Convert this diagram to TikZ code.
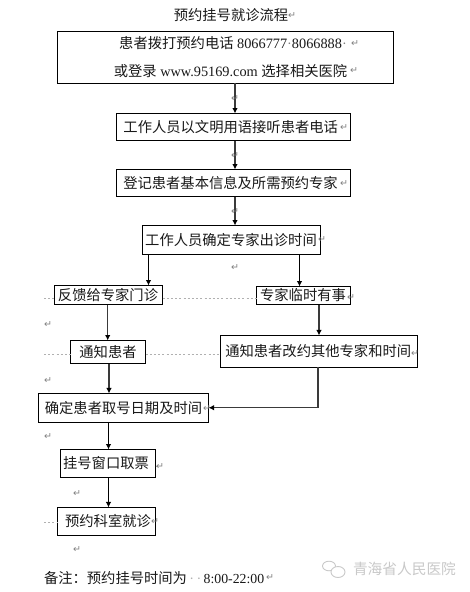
\documentclass[tikz,border=0pt]{standalone}
\usepackage{fontspec}
\setmainfont{Liberation Serif}
\newfontfamily\cjkf{Noto Sans CJK SC}[Scale=1.0]
\newfontfamily\markf{DejaVu Sans}
\usetikzlibrary{arrows.meta,calc}
\definecolor{markgray}{HTML}{808080}
\definecolor{stemgray}{HTML}{3A3A3A}
\definecolor{dotgray}{HTML}{B0B0B0}
\definecolor{wmgray}{HTML}{C9C9C9}
\newcommand{\zh}[1]{{\cjkf #1}}
\newcommand{\spmark}{{\color{markgray}·}}
\newcommand{\lowered}[2]{\raisebox{-#1pt}{#2}}
\tikzset{
  x=1pt,y=1pt,
  every node/.style={font=\fontsize{14.3}{28}\selectfont,inner sep=0pt,outer sep=0pt,text=black!90},
  boxnode/.style={draw=black,line width=0.9pt,fill=white,anchor=center},
  arr/.style={draw=stemgray,line width=1.1pt,-{Latex[length=5.5pt,width=5.5pt,color=black]}},
  dotline/.style={draw=dotgray,line width=0.6pt,dash pattern=on 2pt off 2.2pt},
  retnode/.style={font=\markf\fontsize{9.5}{10}\selectfont,text=markgray,anchor=center},
  wm/.style={font=\fontsize{14.7}{16}\selectfont,text=wmgray,anchor=west},
}
\newcommand{\retm}[3]{\node[retnode] (#1) at (#2,#3) {↵};}
\begin{document}
\begin{tikzpicture}
\useasboundingbox[fill=white] (0,0) rectangle (470,-592);
% column guides
\coordinate (c1) at (235,0);
\coordinate (c2) at (148.5,0);
\coordinate (c3) at (299.5,0);
\coordinate (c4) at (107.7,0);
\coordinate (c5) at (109,0);
\coordinate (c6) at (108.5,0);
\coordinate (c7) at (319,0);
\coordinate (c8) at (318,0);
\coordinate (r1) at (0,-298);
\coordinate (r2) at (0,-354);
\coordinate (r3) at (0,-522);
\coordinate (d1) at (44,-298);
\coordinate (d2) at (44,-354);
\coordinate (d3) at (44,-522);
\coordinate (d4) at (159,-466);
% boxes
\node (title) at (231,-15) {\zh{预约挂号就诊流程}};
\node[boxnode,minimum width=336,minimum height=51.5,align=center] (A) at (225.5,-57.2)
  {\hspace*{15pt}\zh{患者拨打预约电话} 8066777\spmark 8066888\spmark\\\hspace*{10pt}\zh{或登录} www.95169.com \zh{选择相关医院}};
\node[boxnode,minimum width=233.5,minimum height=27] (B) at (233.2,-127) {\hspace*{-5pt}\lowered{1.5}{\zh{工作人员以文明用语接听患者电话}}};
\node[boxnode,minimum width=234,minimum height=27] (C) at (233,-183) {\hspace*{-5pt}\lowered{1.5}{\zh{登记患者基本信息及所需预约专家}}};
\node[boxnode,minimum width=178,minimum height=29] (D) at (231.5,-240) {\hspace*{-1pt}\lowered{0.8}{\zh{工作人员确定专家出诊时间}}};
\node[boxnode,minimum width=108,minimum height=19] (E) at (108.5,-295) {\lowered{2.5}{\hspace*{-1pt}\zh{反馈给专家门诊}}};
\node[boxnode,minimum width=94,minimum height=18] (F) at (303.5,-295.5) {\lowered{2.5}{\hspace*{-1pt}\zh{专家临时有事}}};
\node[boxnode,minimum width=75,minimum height=23] (G) at (108,-352) {\lowered{1.5}{\zh{通知患者}}};
\node[boxnode,minimum width=196.5,minimum height=31.5] (H) at (318.7,-351.2) {\hspace*{-1pt}\lowered{2}{\zh{通知患者改约其他专家和时间}}};
\node[boxnode,minimum width=170,minimum height=28.5] (I) at (123.5,-407.7) {\lowered{1}{\zh{确定患者取号日期及时间}}};
\node[boxnode,minimum width=95,minimum height=28] (J) at (108,-463.5) {\hspace*{-4pt}\lowered{3}{\zh{挂号窗口取票}}};
\node[boxnode,minimum width=98,minimum height=27.5] (K) at (106.5,-521.2) {\hspace*{3pt}\lowered{1}{\zh{预约科室就诊}}};
\node[anchor=west] (note) at (44,-578) {\zh{备注：预约挂号时间为}{\color{dotgray}\,·\,·}\,\fontsize{13.8}{28}\selectfont 8:00-22:00};
% connectors
\draw[arr] (A.south -| c1) -- (B.north -| c1);
\draw[arr] (B.south -| c1) -- (C.north -| c1);
\draw[arr] (C.south -| c1) -- (D.north -| c1);
\draw[arr,draw=black] (D.south -| c2) -- (E.north -| c2);
\draw[arr,draw=black] (D.south -| c3) -- (F.north -| c3);
\draw[arr] (E.south -| c4) -- (G.north -| c4);
\draw[arr] (F.south -| c7) -- (H.north -| c7);
\draw[arr] (G.south -| c5) -- (I.north -| c5);
\draw[arr] (H.south -| c8) |- (I.east);
\draw[arr,draw=black] (I.south -| c6) -- (J.north -| c6);
\draw[arr,draw=black] (J.south -| c6) -- (K.north -| c6);
% dotted tab leaders
\draw[dotline] (d1) -- (E.west |- r1);
\draw[dotline] (E.east |- r1) -- (F.west |- r1);
\draw[dotline] (d2) -- (G.west |- r2);
\draw[dotline] (G.east |- r2) -- (H.west |- r2);
\draw[dotline] (d3) -- (K.west |- r3);
\draw[dotline] (J.east) ++(0,-2.5) coordinate (d5) -- (d4);
% return marks
\retm{m1}{292}{-16}
\retm{m2}{355}{-44}
\retm{m3}{354}{-71}
\retm{m4}{235}{-99}
\retm{m5}{344}{-128}
\retm{m6}{235}{-156}
\retm{m7}{344}{-184}
\retm{m8}{235}{-212}
\retm{m9}{322}{-240}
\retm{m10}{235}{-268}
\retm{m11}{351}{-298}
\retm{m12}{48}{-325}
\retm{m13}{415}{-354}
\retm{m14}{48}{-381}
\retm{m15}{207}{-409}
\retm{m16}{48}{-437}
\retm{m17}{160}{-467}
\retm{m18}{77}{-494}
\retm{m19}{155}{-522}
\retm{m20}{77}{-550}
\retm{m21}{270}{-578}
% watermark
\draw[wmgray,line width=0.9pt] (329,-566) ellipse (6.5 and 4.8);
\draw[wmgray,line width=0.9pt,fill=white] (338,-572) ellipse (7 and 5.5);
\node[wm] (wmtext) at (353,-569) {\zh{青海省人民医院}};
\end{tikzpicture}
\end{document}
